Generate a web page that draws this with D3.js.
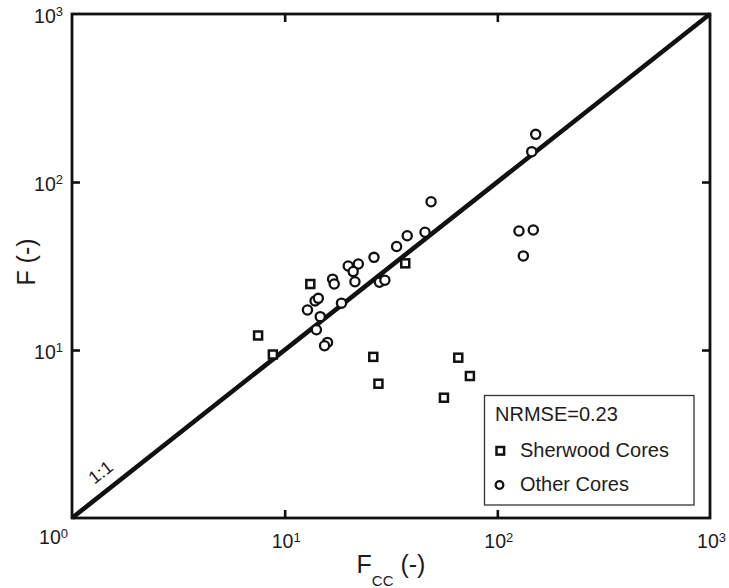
<!DOCTYPE html>
<html>
<head>
<meta charset="utf-8">
<script src="https://cdn.jsdelivr.net/npm/d3@7/dist/d3.min.js"></script>
<style>
  html, body { margin: 0; padding: 0; background: #ffffff; }
  svg { display: block; font-family: "Liberation Sans", Arial, sans-serif; }
</style>
</head>
<body>
<svg id="chart" width="729" height="588"></svg>
<script>
// Sherwood cores: measured F_cc and F
const sherwoodFcc = [7.5, 8.8, 13.2, 26.1, 27.6, 36.9, 56.1, 65.5, 74.3];
const sherwoodF   = [12.2, 9.4, 24.7, 9.1, 6.3, 32.8, 5.2, 9.0, 7.0];

// Other cores
const otherFcc = [12.8, 13.9, 14.4, 14.7, 14.1, 15.9, 15.4, 18.5, 16.8, 17.1,
                  19.9, 22.2, 21.0, 21.4, 26.3, 33.6, 27.9, 29.6, 37.7, 45.7,
                  48.8, 126.4, 147.6, 132.5, 145.1, 151.5];
const otherF   = [17.3, 19.6, 20.3, 15.8, 13.2, 11.1, 10.6, 19.0, 26.4, 24.7,
                  31.6, 32.5, 29.3, 25.5, 35.6, 41.3, 25.3, 26.0, 47.9, 50.2,
                  76.3, 51.1, 51.8, 36.3, 151.5, 192.2];

// Axis decades (exponents of ten) and legend text
const tickExponents = [0, 1, 2, 3];
const legendLabels = ["Sherwood Cores", "Other Cores"];
const nrmseText = "NRMSE=0.23";
const axisDomain = [1, 1000];

const svg = d3.select("#chart");
const ink = "#111";
const textInk = "#1c1c1c";

const x = d3.scaleLog().domain(axisDomain).range([72, 710]);
const y = d3.scaleLog().domain(axisDomain).range([518, 14]);

// 1:1 reference line
svg.append("line")
  .attr("x1", x(axisDomain[0])).attr("y1", y(axisDomain[0]))
  .attr("x2", x(axisDomain[1])).attr("y2", y(axisDomain[1]))
  .attr("stroke", ink).attr("stroke-width", 4.6);

// "1:1" label along the diagonal
const angle = Math.atan2(y(axisDomain[1]) - y(axisDomain[0]), x(axisDomain[1]) - x(axisDomain[0])) * 180 / Math.PI;
const rad = angle * Math.PI / 180;
const lp = 1.54, off = 18;
const lx = x(lp) + off * Math.sin(rad);
const ly = y(lp) - off * Math.cos(rad);
svg.append("text")
  .attr("transform", `translate(${lx},${ly}) rotate(${angle})`)
  .attr("text-anchor", "middle")
  .attr("dominant-baseline", "central")
  .attr("font-size", 18)
  .attr("fill", textInk)
  .text("1:1");

// Sherwood cores (squares)
const sq = 8;
svg.append("g").selectAll("rect")
  .data(d3.zip(sherwoodFcc, sherwoodF))
  .join("rect")
  .attr("x", d => x(d[0]) - sq / 2)
  .attr("y", d => y(d[1]) - sq / 2)
  .attr("width", sq).attr("height", sq)
  .attr("fill", "#fff").attr("stroke", ink).attr("stroke-width", 2.5);

// Other cores (circles)
svg.append("g").selectAll("circle")
  .data(d3.zip(otherFcc, otherF))
  .join("circle")
  .attr("cx", d => x(d[0]))
  .attr("cy", d => y(d[1]))
  .attr("r", 4.6)
  .attr("fill", "#fff").attr("stroke", ink).attr("stroke-width", 2.3);

// Inward decade ticks on all four sides
const inner = tickExponents.slice(1, -1).map(e => Math.pow(10, e));
const tickStyle = g => {
  g.select(".domain").remove();
  g.selectAll(".tick line").attr("stroke", ink).attr("stroke-width", 2.6);
  g.selectAll(".tick text").remove();
};
svg.append("g").attr("transform", "translate(0,518)")
  .call(d3.axisBottom(x).tickValues(inner).tickSize(-8)).call(tickStyle);
svg.append("g").attr("transform", "translate(0,14)")
  .call(d3.axisTop(x).tickValues(inner).tickSize(-8)).call(tickStyle);
svg.append("g").attr("transform", "translate(72,0)")
  .call(d3.axisLeft(y).tickValues(inner).tickSize(-8)).call(tickStyle);
svg.append("g").attr("transform", "translate(710,0)")
  .call(d3.axisRight(y).tickValues(inner).tickSize(-8)).call(tickStyle);

// Frame
svg.append("rect")
  .attr("x", 72).attr("y", 14).attr("width", 638).attr("height", 504)
  .attr("fill", "none").attr("stroke", ink).attr("stroke-width", 2.8);

// Power-of-ten tick labels
function powerLabel(sel, e) {
  sel.attr("font-size", 19.5).attr("fill", textInk);
  sel.append("tspan").text("10");
  sel.append("tspan").attr("font-size", 13).attr("dy", -6.5).text(e);
}
// x axis (the 10^0 label sits at the corner, left of the origin)
tickExponents.forEach(e => {
  const t = svg.append("text")
    .attr("x", e === 0 ? x(1) - 18.5 : x(Math.pow(10, e)) + 1.5)
    .attr("y", e === 0 ? 544 : 548)
    .attr("text-anchor", "middle");
  powerLabel(t, e);
});
// y axis
tickExponents.slice(1).forEach(e => {
  const t = svg.append("text")
    .attr("x", 63)
    .attr("y", y(Math.pow(10, e)) + 8.5)
    .attr("text-anchor", "end");
  powerLabel(t, e);
});

// Axis titles
const xt = svg.append("text")
  .attr("x", 391).attr("y", 573)
  .attr("text-anchor", "middle")
  .attr("font-size", 25).attr("fill", textInk);
xt.append("tspan").text("F");
xt.append("tspan").attr("font-size", 15).attr("dy", 13).text("CC");
xt.append("tspan").attr("dy", -13).text(" (-)");

svg.append("text")
  .attr("transform", "translate(35,262) rotate(-90)")
  .attr("text-anchor", "middle")
  .attr("font-size", 25).attr("fill", textInk)
  .text("F (-)");

// Legend
const lg = svg.append("g");
lg.append("rect")
  .attr("x", 484.5).attr("y", 395.5).attr("width", 209.5).attr("height", 109.5)
  .attr("fill", "#fff").attr("stroke", "#333").attr("stroke-width", 1.3);
lg.append("text").attr("x", 495).attr("y", 421)
  .attr("font-size", 20).attr("fill", textInk).text(nrmseText);
lg.append("rect")
  .attr("x", 500.3 - 3.8).attr("y", 450.8 - 3.8).attr("width", 7.6).attr("height", 7.6)
  .attr("fill", "#fff").attr("stroke", ink).attr("stroke-width", 2.5);
lg.append("text").attr("x", 520).attr("y", 457)
  .attr("font-size", 20).attr("fill", textInk).text(legendLabels[0]);
lg.append("circle")
  .attr("cx", 499.5).attr("cy", 485).attr("r", 3.8)
  .attr("fill", "#fff").attr("stroke", ink).attr("stroke-width", 2.3);
lg.append("text").attr("x", 520).attr("y", 491)
  .attr("font-size", 20).attr("fill", textInk).text(legendLabels[1]);
</script>
</body>
</html>
